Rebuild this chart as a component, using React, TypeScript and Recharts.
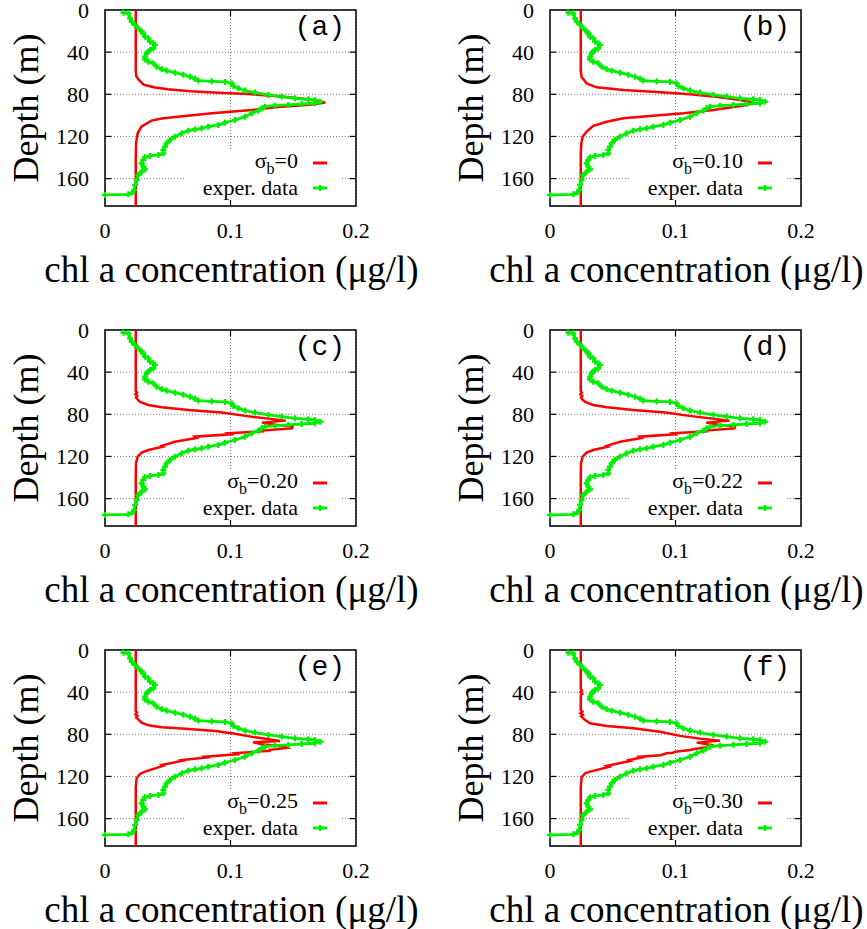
import {
  CartesianGrid,
  ReferenceArea,
  ReferenceLine,
  Scatter,
  ScatterChart,
  XAxis,
  YAxis,
} from "recharts";

const DEPTH_TICKS = [0, 40, 80, 120, 160];
const CONC_TICKS = [0, 0.1, 0.2];
const PANEL_LABELS = ["(a)", "(b)", "(c)", "(d)", "(e)", "(f)"];
const SIGMA_LABELS = ["0", "0.10", "0.20", "0.22", "0.25", "0.30"];

// [concentration, depth]
const expData: [number, number][] = [
  [0.0146, 2.5], [0.0186, 3.2], [0.0199, 7.9], [0.0213, 11.1], [0.0239, 14.2],
  [0.0266, 17.4], [0.0292, 20.6], [0.0305, 22.1], [0.0319, 25.3], [0.0345, 26.9],
  [0.0359, 30.0], [0.0385, 31.6], [0.0398, 33.2], [0.0385, 36.4], [0.0359, 38.0],
  [0.0345, 39.5], [0.0332, 41.1], [0.0319, 44.3], [0.0319, 46.8], [0.0345, 49.0],
  [0.0385, 50.6], [0.0412, 53.8], [0.0452, 56.3], [0.0491, 57.6], [0.0558, 59.5],
  [0.0624, 61.4], [0.0677, 63.3], [0.0717, 65.2], [0.0744, 67.0], [0.085, 67.7],
  [0.0956, 68.3], [0.1009, 69.6], [0.1023, 72.1], [0.1063, 74.3], [0.1116, 76.5],
  [0.1195, 78.4], [0.1302, 80.6], [0.1408, 82.2], [0.1514, 83.8], [0.162, 84.7],
  [0.1673, 85.4], [0.1713, 87.0], [0.1673, 88.5], [0.1567, 89.2], [0.1461, 90.1],
  [0.1355, 90.8], [0.1275, 91.7], [0.1248, 93.3], [0.1222, 95.5], [0.1169, 98.0],
  [0.1116, 101.2], [0.1036, 104.4], [0.0956, 106.9], [0.0903, 109.1], [0.0823, 110.7],
  [0.077, 112.3], [0.0717, 113.2], [0.0664, 114.5], [0.0611, 117.0], [0.0558, 120.2],
  [0.0518, 123.3], [0.0491, 126.5], [0.0478, 129.7], [0.0465, 132.8], [0.0465, 136.0],
  [0.0425, 137.6], [0.0359, 138.5], [0.0319, 139.8], [0.0305, 142.3], [0.0292, 145.5],
  [0.0305, 148.6], [0.0319, 151.2], [0.0292, 153.4], [0.0266, 156.5], [0.0252, 161.3],
  [0.0239, 166.0], [0.0234, 170.8], [0.0218, 173.3], [0.0186, 174.9], [0, 175.5],
];

const modelA: [number, number][] = [
  [0.0245, 0], [0.0245, 58], [0.025, 63], [0.0275, 67], [0.031, 71], [0.04, 73.5],
  [0.05, 75.2], [0.068, 77], [0.09, 78.5], [0.115, 79.8], [0.14, 82.2], [0.156, 84],
  [0.168, 86], [0.1755, 87.8], [0.165, 89.8], [0.141, 91.7], [0.117, 94.9], [0.085, 98],
  [0.06, 101], [0.045, 103], [0.037, 105], [0.029, 110.7], [0.026, 117], [0.0248, 126],
  [0.0245, 140], [0.0245, 186],
];

const modelB: [number, number][] = [
  [0.0245, 0], [0.0245, 58], [0.0252, 63.6], [0.0292, 69.6], [0.0372, 73.4], [0.0584, 75.9],
  [0.085, 77.8], [0.1116, 80], [0.1355, 82.9], [0.1514, 85.4], [0.1594, 87.3], [0.162, 88.5],
  [0.1514, 91.1], [0.1302, 94.9], [0.1063, 98], [0.0797, 100.6], [0.0584, 102.8],
  [0.0452, 106], [0.0345, 110], [0.0292, 115.4], [0.026, 120.2], [0.025, 126.5],
  [0.0245, 136], [0.0245, 186],
];

const modelC: [number, number][] = [
  [0.0245, 0], [0.0245, 58], [0.0255, 59.5], [0.0242, 61], [0.0257, 62.5], [0.0247, 64],
  [0.026, 66], [0.0279, 68.3], [0.0345, 71.2], [0.0452, 73.4], [0.0664, 75.9], [0.093, 78.4],
  [0.1116, 81.5], [0.1302, 84.1], [0.144, 86.0], [0.125, 87.9], [0.1355, 89.8], [0.1495, 91.7],
  [0.149, 93.4], [0.1248, 95.3], [0.127, 96], [0.0983, 98], [0.1, 99], [0.0717, 101.2],
  [0.073, 102.5], [0.0558, 106], [0.0452, 110], [0.0462, 110.8], [0.0345, 113.9],
  [0.0292, 116.4], [0.026, 120.2], [0.0247, 126.5], [0.0245, 140], [0.0245, 186],
];

const modelD: [number, number][] = [
  [0.0245, 0], [0.0245, 58], [0.0254, 59.5], [0.0242, 61], [0.0257, 62.5], [0.0247, 64],
  [0.026, 66], [0.028, 68.3], [0.0345, 71.2], [0.0452, 73.4], [0.0664, 75.9], [0.092, 78.4],
  [0.111, 81.5], [0.1295, 84.1], [0.143, 86.0], [0.1245, 87.9], [0.1345, 89.8], [0.1475, 91.7],
  [0.147, 93.4], [0.124, 95.3], [0.126, 96], [0.098, 98], [0.0995, 99], [0.0717, 101.2],
  [0.073, 102.5], [0.0558, 106], [0.0452, 110], [0.0462, 110.8], [0.0345, 113.9],
  [0.0292, 116.4], [0.026, 120.2], [0.0247, 126.5], [0.0245, 140], [0.0245, 186],
];

const modelE: [number, number][] = [
  [0.0245, 0], [0.0245, 58], [0.0255, 59.5], [0.0242, 61], [0.0258, 62.5], [0.0248, 64],
  [0.0292, 69], [0.0345, 71.5], [0.0452, 73.4], [0.0611, 74.6], [0.088, 76.8], [0.1036, 79.5],
  [0.1195, 82.9], [0.132, 85.0], [0.1394, 86.3], [0.118, 87.5], [0.125, 89.5], [0.144, 91.7],
  [0.1456, 92.8], [0.1302, 94.9], [0.132, 95.5], [0.1036, 98], [0.105, 99], [0.0797, 101.2],
  [0.081, 102], [0.0611, 104.4], [0.062, 105], [0.0452, 109.1], [0.0462, 110], [0.0319, 115.4],
  [0.0279, 117.6], [0.0252, 121.7], [0.0245, 130], [0.0245, 186],
];

const modelF: [number, number][] = [
  [0.0245, 0], [0.0245, 37], [0.0255, 38.5], [0.0242, 40], [0.0257, 41.5], [0.0245, 43],
  [0.0245, 57], [0.0258, 58.5], [0.0242, 60], [0.0262, 61.5], [0.0248, 63], [0.0275, 66],
  [0.0319, 69.6], [0.0452, 72.1], [0.0664, 74.3], [0.0877, 77.5],
  [0.1036, 81.5], [0.1195, 84.1], [0.1355, 86.0], [0.1169, 87.9], [0.1302, 90.4],
  [0.1248, 92.3], [0.115, 94.0], [0.1116, 94.9], [0.1, 96.5], [0.098, 97.5], [0.093, 98],
  [0.088, 99.8], [0.0717, 101.2], [0.073, 102], [0.0611, 104.8], [0.063, 105.5],
  [0.0452, 110], [0.047, 111], [0.0319, 115.4], [0.0279, 117], [0.0252, 120.8],
  [0.0245, 130], [0.0245, 186],
];

const MODELS = [modelA, modelB, modelC, modelD, modelE, modelF];

const RED = "#ff0000";
const GREEN = "#00ee00";
const SERIF = "Liberation Serif";
const MONO = "Liberation Mono";

const W = 440;
const H = 320;
const PL = 105;
const PT = 10;
const PW = 251;
const PH = 196;
const PR = PL + PW;
const PB = PT + PH;
const Y_MAX = 186;

const toPoints = (arr: [number, number][]) => arr.map(([c, d]) => ({ c, d }));

function PlusMark(props: any) {
  const { cx, cy } = props;
  if (cx == null || cy == null) return <g />;
  return (
    <path
      d={`M${cx - 3},${cy}H${cx + 3}M${cx},${cy - 3}V${cy + 3}`}
      stroke={GREEN}
      strokeWidth={2.2}
    />
  );
}

const NoMark = () => <g />;

function Panel({ idx, left, top }: { idx: number; left: number; top: number }) {
  const model = toPoints(MODELS[idx]);
  const exp = toPoints(expData);
  const tickStyle = { fill: "#000", fontSize: 22, fontFamily: SERIF };
  return (
    <div style={{ position: "absolute", left, top, width: W, height: H, fontFamily: SERIF }}>
      <ScatterChart
        width={W}
        height={H}
        margin={{ top: PT, right: W - PR, left: PL - 60, bottom: H - PB - 40 }}
      >
        <CartesianGrid stroke="#777" strokeDasharray="1 2" strokeWidth={1} />
        <XAxis
          type="number"
          dataKey="c"
          domain={[0, 0.2]}
          ticks={CONC_TICKS}
          height={40}
          axisLine={false}
          tickLine={false}
          tickSize={8}
          tickMargin={8}
          tick={tickStyle}
          interval={0}
        />
        <YAxis
          type="number"
          dataKey="d"
          domain={[0, Y_MAX]}
          reversed
          ticks={DEPTH_TICKS}
          width={60}
          axisLine={false}
          tickLine={false}
          tickSize={8}
          tickMargin={8}
          tick={tickStyle}
          interval={0}
        />
        {DEPTH_TICKS.slice(1).map((d) => (
          <ReferenceLine
            key={"l" + d}
            segment={[{ x: 0, y: d }, { x: 0.005, y: d }]}
            stroke="#000"
            strokeWidth={1.2}
          />
        ))}
        {DEPTH_TICKS.slice(1).map((d) => (
          <ReferenceLine
            key={"r" + d}
            segment={[{ x: 0.195, y: d }, { x: 0.2, y: d }]}
            stroke="#000"
            strokeWidth={1.2}
          />
        ))}
        <ReferenceLine segment={[{ x: 0.1, y: 0 }, { x: 0.1, y: 6 }]} stroke="#000" strokeWidth={1.2} />
        <ReferenceLine
          segment={[{ x: 0.1, y: Y_MAX - 6 }, { x: 0.1, y: Y_MAX }]}
          stroke="#000"
          strokeWidth={1.2}
        />
        <Scatter
          data={model}
          line={{ stroke: RED, strokeWidth: 2.5 }}
          lineType="joint"
          shape={NoMark}
          isAnimationActive={false}
        />
        <Scatter
          data={exp}
          line={{ stroke: GREEN, strokeWidth: 2.8 }}
          lineType="joint"
          shape={PlusMark}
          isAnimationActive={false}
        />
        <ReferenceArea
          x1={0}
          x2={0.2}
          y1={0}
          y2={Y_MAX}
          fill="none"
          fillOpacity={0}
          stroke="#000"
          strokeWidth={1.5}
        />
      </ScatterChart>
      <svg
        width={W}
        height={H}
        style={{ position: "absolute", left: 0, top: 0, pointerEvents: "none" }}
      >
        <text
          x={PR - 11}
          y={PT + 25}
          textAnchor="end"
          fontFamily={MONO}
          fontSize={28}
          fill="#000"
        >
          {PANEL_LABELS[idx]}
        </text>
        <rect x={PR - 171} y={PB - 56} width={156} height={50} fill="#fff" />
        <text x={PR - 58} y={PB - 38} textAnchor="end" fontFamily={SERIF} fontSize={22} fill="#000">
          σ
          <tspan dy={6} fontSize={16}>
            b
          </tspan>
          <tspan dy={-6}>={SIGMA_LABELS[idx]}</tspan>
        </text>
        <line x1={PR - 43} x2={PR - 29} y1={PB - 43} y2={PB - 43} stroke={RED} strokeWidth={3} />
        <text x={PR - 58} y={PB - 11} textAnchor="end" fontFamily={SERIF} fontSize={22} fill="#000">
          exper. data
        </text>
        <line x1={PR - 43} x2={PR - 29} y1={PB - 18} y2={PB - 18} stroke={GREEN} strokeWidth={3} />
        <path
          d={`M${PR - 39},${PB - 18}H${PR - 33}M${PR - 36},${PB - 21}V${PB - 15}`}
          stroke={GREEN}
          strokeWidth={2.2}
        />
        <text
          transform={`translate(38, ${PT + PH / 2}) rotate(-90)`}
          textAnchor="middle"
          fontFamily={SERIF}
          fontSize={36}
          fill="#000"
        >
          Depth (m)
        </text>
        <text
          x={PL + PW / 2 + 1}
          y={PB + 76}
          textAnchor="middle"
          fontFamily={SERIF}
          fontSize={37}
          fill="#000"
        >
          chl a concentration (μg/l)
        </text>
      </svg>
    </div>
  );
}

export default function App() {
  return (
    <div
      style={{
        position: "absolute",
        left: 0,
        top: 0,
        width: 867,
        height: 929,
        background: "#fff",
        overflow: "hidden",
        fontFamily: SERIF,
      }}
    >
      <style>{`.recharts-surface { overflow: visible; } .recharts-cartesian-axis-tick-value { font-family: 'Liberation Serif'; }`}</style>
      {PANEL_LABELS.map((_, i) => (
        <Panel key={i} idx={i} left={(i % 2) * 445} top={Math.floor(i / 2) * 320} />
      ))}
    </div>
  );
}
